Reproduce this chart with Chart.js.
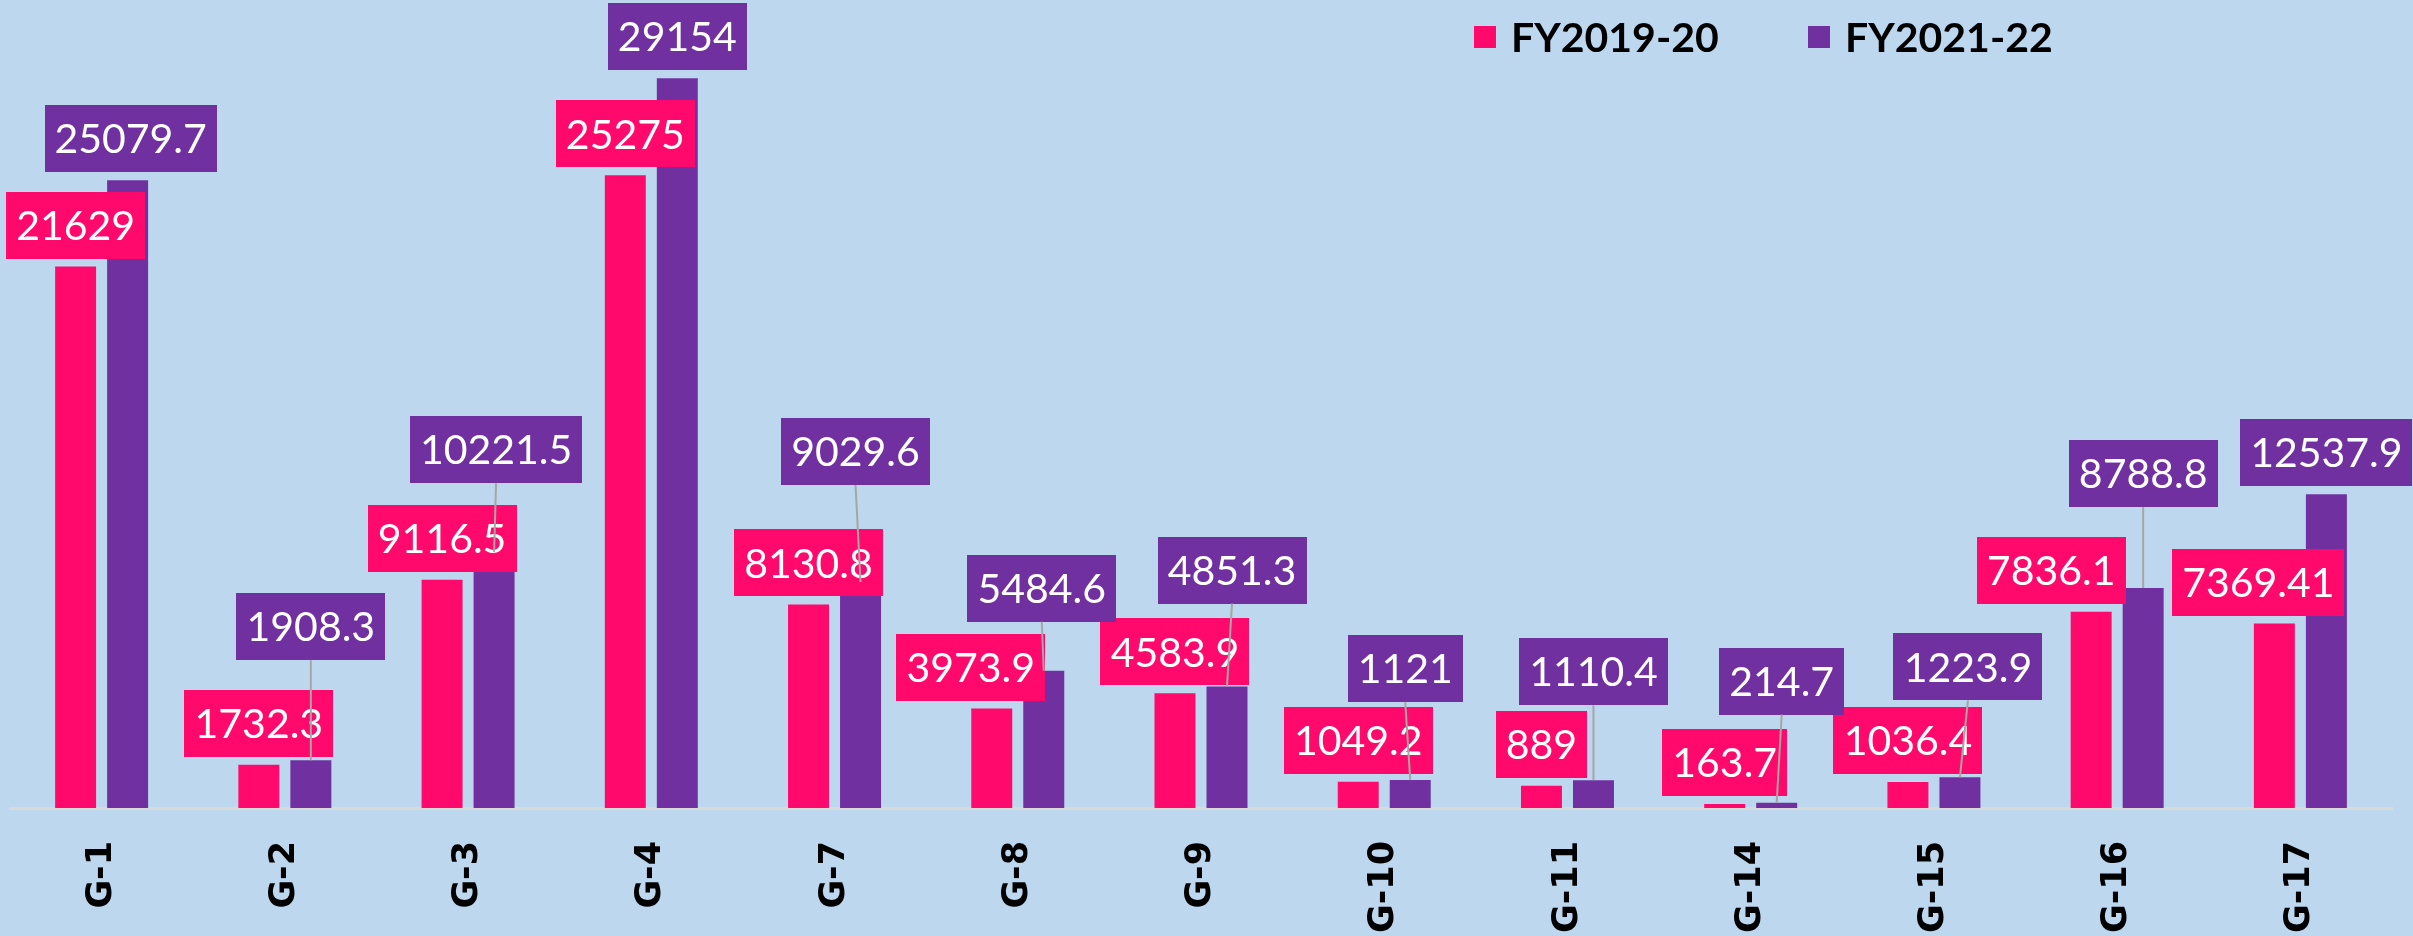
<!DOCTYPE html>
<html>
<head>
<meta charset="utf-8">
<script src="https://cdn.jsdelivr.net/npm/chart.js@4.4.1/dist/chart.umd.min.js"></script>
<style>
  html, body { margin: 0; padding: 0; background: #BDD7EE; }
  #wrap { width: 2413px; height: 936px; position: relative; }
</style>
</head>
<body>
<div id="wrap"><canvas id="chart" width="2413" height="936"></canvas></div>
<script>
// Categories and values per financial year
const categories = ['G-1', 'G-2', 'G-3', 'G-4', 'G-7', 'G-8', 'G-9', 'G-10', 'G-11', 'G-14', 'G-15', 'G-16', 'G-17'];
const fy2019_20 = [21629, 1732.3, 9116.5, 25275, 8130.8, 3973.9, 4583.9, 1049.2, 889, 163.7, 1036.4, 7836.1, 7369.41];
const fy2021_22 = [25079.7, 1908.3, 10221.5, 29154, 9029.6, 5484.6, 4851.3, 1121, 1110.4, 214.7, 1223.9, 8788.8, 12537.9];
const seriesNames = ['FY2019-20', 'FY2021-22'];

// Hand-placed value label nudges (pixels): sideways shift and extra lift above the bar
const labelShiftX2019 = [0, 0, 0, 0, 0, -21, 0, 0, 0, 0, 0, -40, -16];
const labelShiftX2021 = [3, 0, 2, 0, -5, -2, 5, -5, 0, 5, 8, 0, 0];
const labelLift2019 = [0, 0, 0, 0, 0, 0, 0, 0, 0, 0, 0, 0, 0];
const labelLift2021 = [0, 92, 61, 0, 89, 41, 75, 70, 67, 80, 69, 73, 0];

const PINK = '#FF0A6C';
const PURPLE = '#7030A0';
const BG = '#BDD7EE';

const labelNudges = [
  { dx: labelShiftX2019, lift: labelLift2019 },
  { dx: labelShiftX2021, lift: labelLift2021 }
];

const backgroundPlugin = {
  id: 'pageBackground',
  beforeDraw(chart) {
    const ctx = chart.ctx;
    ctx.save();
    ctx.fillStyle = BG;
    ctx.fillRect(0, 0, chart.width, chart.height);
    ctx.restore();
  }
};

// Boxed value labels with leader lines back to the bar top
const valueLabelPlugin = {
  id: 'valueLabels',
  afterDatasetsDraw(chart) {
    const ctx = chart.ctx;
    const fontSize = 41;
    const padX = 10;
    const boxH = 67;
    const gap = 8;
    const leaders = [];
    ctx.save();
    ctx.font = fontSize + 'px Lato, "Open Sans", sans-serif';
    ctx.textAlign = 'center';
    ctx.textBaseline = 'alphabetic';
    chart.data.datasets.forEach((ds, di) => {
      const meta = chart.getDatasetMeta(di);
      const nudge = labelNudges[di];
      meta.data.forEach((bar, i) => {
        const text = String(ds.data[i]);
        const w = Math.round(ctx.measureText(text).width + padX * 2);
        const cx = bar.x + nudge.dx[i];
        const bottom = bar.y - gap - nudge.lift[i];
        const top = bottom - boxH;
        ctx.fillStyle = ds.backgroundColor;
        ctx.fillRect(Math.round(cx - w / 2), Math.round(top), w, boxH);
        ctx.fillStyle = '#FFFFFF';
        ctx.fillText(text, cx, top + boxH / 2 + fontSize * 0.36);
        if (nudge.lift[i] > 0) {
          leaders.push([bar.x, bar.y, cx, bottom]);
        }
      });
    });
    ctx.strokeStyle = '#A6A6A6';
    ctx.lineWidth = 2;
    leaders.forEach(([x1, y1, x2, y2]) => {
      ctx.beginPath();
      ctx.moveTo(x1, y1);
      ctx.lineTo(x2, y2);
      ctx.stroke();
    });
    ctx.restore();
  }
};

// Legend in the upper right
const legendPlugin = {
  id: 'seriesLegend',
  afterDraw(chart) {
    const ctx = chart.ctx;
    const starts = [1474, 1808];
    const sq = 22;
    const top = 26;
    ctx.save();
    ctx.font = 'bold 41px Lato, "Open Sans", sans-serif';
    ctx.textAlign = 'left';
    ctx.textBaseline = 'alphabetic';
    chart.data.datasets.forEach((ds, di) => {
      const x = starts[di];
      ctx.fillStyle = ds.backgroundColor;
      ctx.fillRect(x, top, sq, sq);
      ctx.fillStyle = '#000000';
      ctx.fillText(ds.label, x + sq + 15, top + sq / 2 + 41 * 0.36);
    });
    ctx.restore();
  }
};

new Chart(document.getElementById('chart'), {
  type: 'bar',
  data: {
    labels: categories,
    datasets: [
      {
        label: seriesNames[0],
        data: fy2019_20,
        backgroundColor: PINK,
        categoryPercentage: 0.5676,
        barPercentage: 0.788
      },
      {
        label: seriesNames[1],
        data: fy2021_22,
        backgroundColor: PURPLE,
        categoryPercentage: 0.5676,
        barPercentage: 0.788
      }
    ]
  },
  options: {
    responsive: false,
    animation: false,
    devicePixelRatio: 1,
    layout: { padding: { top: 57, left: 10, right: 21, bottom: 0 } },
    plugins: {
      legend: { display: false },
      tooltip: { enabled: false }
    },
    scales: {
      x: {
        grid: { display: false, drawTicks: false },
        border: { display: true, color: '#D9D9D9', width: 3 },
        ticks: {
          autoSkip: false,
          minRotation: 90,
          maxRotation: 90,
          padding: 33,
          color: '#000000',
          font: { family: '"DejaVu Sans", sans-serif', weight: 'bold', size: 35 }
        },
        afterFit(scale) {
          // axis band below the plot: axis line down to the canvas bottom
          scale.height = 128;
        }
      },
      y: {
        display: false,
        min: 0,
        max: 30000
      }
    }
  },
  plugins: [backgroundPlugin, valueLabelPlugin, legendPlugin]
});
</script>
</body>
</html>
